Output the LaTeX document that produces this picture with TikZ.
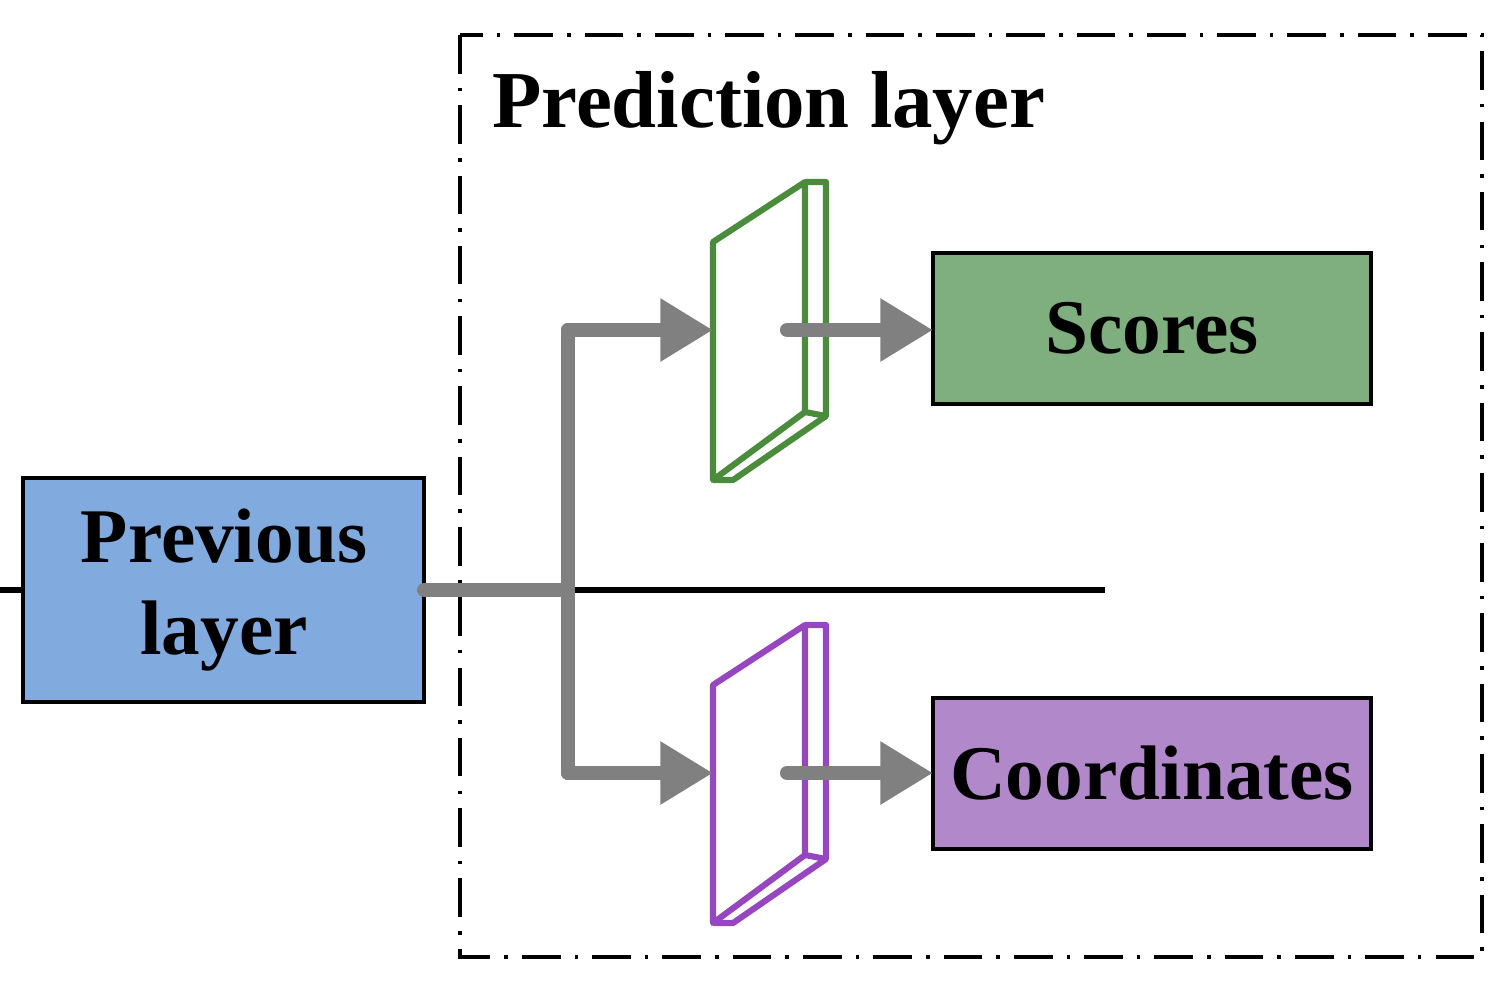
\documentclass[tikz,border=0pt]{standalone}
\usepackage{fontspec}
\setmainfont{Liberation Serif}
\usetikzlibrary{arrows.meta}
\begin{document}
\begin{tikzpicture}[x=0.02cm,y=-0.02cm,
  box/.style={draw=black,line width=2.5pt,inner sep=0pt,font=\fontsize{44}{50}\selectfont\bfseries},
  conn/.style={draw=gray!95!black,color=gray,line width=8pt,line cap=round},
  arr/.style={conn,-{Triangle[length=30pt,width=34pt]}},
  plate/.style={line width=3.5pt,line join=round}]
\useasboundingbox (0,0) rectangle (1510,995);
\draw[line width=2.5pt,dash pattern=on 22pt off 8pt on 2pt off 8pt] (460,35) rectangle (1482,957);
\node[anchor=west,font=\fontsize{46}{50}\selectfont\bfseries] (title) at (486,108) {Prediction layer};
\node[box,fill=blue!40!cyan!30!gray!60,fill={rgb,255:red,129;green,170;blue,222},minimum width=400\pgflinewidth,align=center] (prev) at (224,590) {};
\path[box,fill={rgb,255:red,129;green,170;blue,222}] (23,478) rectangle (424,702);
\node[font=\fontsize{44}{52}\selectfont\bfseries,align=center] (prevt) at (224,590) {Previous\\layer};
\path[box,fill={rgb,255:red,127;green,174;blue,127}] (933,253) rectangle (1371,404);
\node[font=\fontsize{44}{50}\selectfont\bfseries] (sc) at (1152,328) {Scores};
\path[box,fill={rgb,255:red,177;green,137;blue,203}] (933,698) rectangle (1371,849);
\node[font=\fontsize{44}{50}\selectfont\bfseries] (co) at (1152,773) {Coordinates};
\coordinate (pe) at (424,590);
\coordinate (br) at (568,590);
\coordinate (g) at (713,330);
\coordinate (p) at (713,773);
\coordinate (gs) at (787,330);
\coordinate (ps) at (787,773);
\coordinate (s) at (933,330);
\coordinate (c) at (933,773);
% plates
\foreach \dy/\col in {0/{rgb,255:red,74;green,140;blue,60},443/{rgb,255:red,150;green,70;blue,190}}{
 \begin{scope}[yshift=-\dy*0.02cm]
 \draw[plate,draw=\col] (713,242)--(805,182)--(805,412)--(713,480)--cycle;
 \draw[plate,draw=\col] (805,182)--(826,182)--(826,416)--(733,480)--(713,480);
 \draw[plate,draw=\col] (805,412)--(826,416);
 \end{scope}}
\draw[conn] (pe)--(br);
\draw[conn] (br|-g)--(br|-p);
\draw[arr] (br|-g)--(g);
\draw[arr] (br|-p)--(p);
\draw[arr] (gs)--(s);
\draw[arr] (ps)--(c);
\end{tikzpicture}
\end{document}
